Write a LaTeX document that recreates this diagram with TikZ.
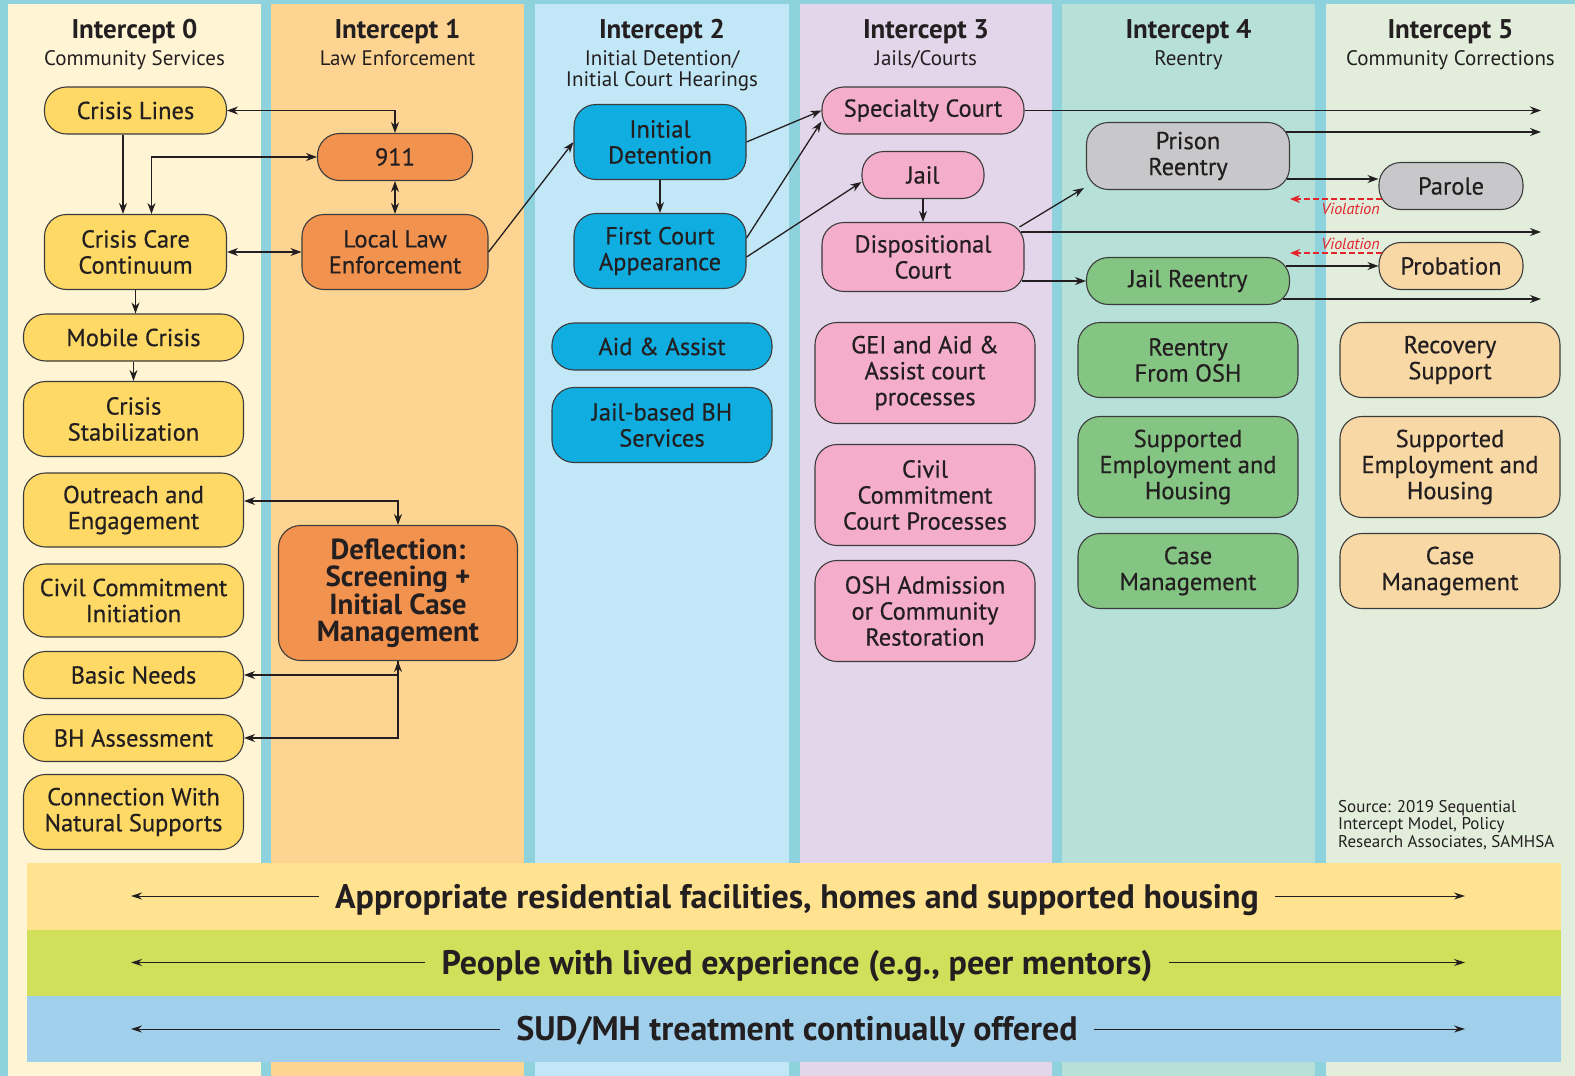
\documentclass[tikz,border=0pt]{standalone}
\usepackage{fontspec}
\setmainfont{PT Sans}
\newfontfamily\boxfont{PT Sans}[FakeBold=0.5]
\usetikzlibrary{arrows.meta, calc}

\definecolor{frame}{HTML}{8ED2DD}
\definecolor{colA}{HTML}{FFF5D5}
\definecolor{colB}{HTML}{FED492}
\definecolor{colC}{HTML}{C2E7F6}
\definecolor{colD}{HTML}{E3D6EA}
\definecolor{colE}{HTML}{B7E1D8}
\definecolor{colF}{HTML}{E2EEDB}
\definecolor{yel}{HTML}{FED966}
\definecolor{ora}{HTML}{F2924F}
\definecolor{blu}{HTML}{0FADE0}
\definecolor{pnk}{HTML}{F4ADCB}
\definecolor{gry}{HTML}{C8C8CA}
\definecolor{grn}{HTML}{85C584}
\definecolor{tanfill}{HTML}{F8D9A6}
\definecolor{bandA}{HTML}{FFE390}
\definecolor{bandB}{HTML}{D1E05B}
\definecolor{bandC}{HTML}{A1D0ED}
\definecolor{ink}{HTML}{231F20}
\definecolor{edge}{HTML}{3C3C3C}
\definecolor{viol}{HTML}{E3242B}

\begin{document}
\begin{tikzpicture}[x=1pt, y=-1pt,
        box/.style={draw=edge, line width=1.1pt, rounded corners=22pt, minimum width=220pt, minimum height=47pt, align=center, inner sep=0pt, text=ink, font=\boxfont\fontsize{24.5}{26}\selectfont},
        tall/.style={minimum height=75pt},
        taller/.style={minimum height=101pt},
        head/.style={font=\fontsize{27}{28}\selectfont\bfseries, text=ink, inner sep=0pt, anchor=base},
        sub/.style={font=\fontsize{21}{21}\selectfont, text=ink, align=center, inner sep=0pt, anchor=base},
        arrow/.style={->, >={Stealth[length=11pt,width=8pt]}, draw=ink, line width=1.3pt},
        violation/.style={->, >={Stealth[length=10pt,width=8pt]}, draw=viol, line width=1.1pt, dash pattern=on 6pt off 3pt},
        vlabel/.style={font=\fontsize{16}{17}\selectfont\itshape, text=viol, inner sep=0pt},
        band/.style={font=\fontsize{34}{36}\selectfont\bfseries, text=ink, inner ysep=0pt, inner xsep=16pt},
        bandarrow/.style={->, >={Stealth[length=11pt,width=7pt]}, draw=ink, line width=1pt}
    ]
        \useasboundingbox (0,0) rectangle (1575,1076);

        % Columns
        \fill[frame] (0,0) rectangle (1575,1076);
        \foreach \xa/\xb/\c in {8/261/colA, 271/524/colB, 535/789/colC, 800/1052/colD, 1062/1315/colE, 1326/1575/colF}
            \fill[\c] (\xa,4) rectangle (\xb,1076);

        % Headers
        \foreach \x/\n/\s/\y in {134.5/0/{Community Services}/65.5, 397.5/1/{Law Enforcement}/65.5, 662/2/{Initial Detention/\\Initial Court Hearings}/86.5, 926/3/{Jails/Courts}/65.5, 1188.5/4/{Reentry}/65.5, 1450.5/5/{Community Corrections}/65.5} {
            \node[head] (h\n) at (\x,38) {Intercept \n};
            \node[sub] (s\n) at (\x,\y) {\s};
        }

        % Intercept 0
        \node[box, fill=yel, minimum width=182pt] (lines) at (135.5,110.5) {Crisis Lines};
        \node[box, fill=yel, minimum width=182pt, tall] (care) at (135.5,252) {Crisis Care\\Continuum};
        \node[box, fill=yel] (mobile) at (133.5,337.5) {Mobile Crisis};
        \node[box, fill=yel, tall] (stab) at (133.5,419) {Crisis\\Stabilization};
        \node[box, fill=yel, minimum height=74pt] (outreach) at (133.5,510) {Outreach and\\Engagement};
        \node[box, fill=yel, minimum height=73pt] (civil) at (133.5,600.5) {Civil Commitment\\Initiation};
        \node[box, fill=yel] (basic) at (133.5,675) {Basic Needs};
        \node[box, fill=yel] (bh) at (133.5,738) {BH Assessment};
        \node[box, fill=yel, tall] (natural) at (133.5,812) {Connection With\\Natural Supports};

        % Intercept 1
        \node[box, fill=ora, minimum width=155pt] (n911) at (395,157) {911};
        \node[box, fill=ora, minimum width=186pt, tall] (local) at (395,252) {Local Law\\Enforcement};
        \node[box, fill=ora, minimum width=239pt, minimum height=135pt, font=\fontsize{29}{27.5}\selectfont\bfseries] (defl) at (398,593) {Deflection:\\Screening +\\Initial Case\\Management};

        % Intercept 2
        \node[box, fill=blu, minimum width=172pt, tall] (initdet) at (660,142) {Initial\\Detention};
        \node[box, fill=blu, minimum width=172pt, tall] (first) at (660,251) {First Court\\Appearance};
        \node[box, fill=blu] (aid) at (662,346.5) {Aid \& Assist};
        \node[box, fill=blu, tall] (jailbh) at (662,425) {Jail-based BH\\Services};

        % Intercept 3
        \node[box, fill=pnk, minimum width=202pt] (spec) at (923,110.5) {Specialty Court};
        \node[box, fill=pnk, minimum width=122pt] (jail) at (923,175) {Jail};
        \node[box, fill=pnk, minimum width=202pt, minimum height=69pt] (disp) at (923,257) {Dispositional\\Court};
        \node[box, fill=pnk, taller] (gei) at (925,373) {GEI and Aid \&\\Assist court\\processes};
        \node[box, fill=pnk, taller] (civilct) at (925,495) {Civil\\Commitment\\Court Processes};
        \node[box, fill=pnk, taller] (osh) at (925,611) {OSH Admission\\or Community\\Restoration};

        % Intercept 4
        \node[box, fill=gry, minimum width=203pt, minimum height=67pt] (prison) at (1188,156) {Prison\\Reentry};
        \node[box, fill=grn, minimum width=203pt] (jr) at (1188,281) {Jail Reentry};
        \node[box, fill=grn, tall] (oshre) at (1188,360) {Reentry\\From OSH};
        \node[box, fill=grn, taller] (emp4) at (1188,467) {Supported\\Employment and\\Housing};
        \node[box, fill=grn, tall] (case4) at (1188,571) {Case\\Management};

        % Intercept 5
        \node[box, fill=gry, minimum width=144pt] (parole) at (1451,186) {Parole};
        \node[box, fill=tanfill, minimum width=144pt] (prob) at (1451,266) {Probation};
        \node[box, fill=tanfill, tall] (recov) at (1450,360) {Recovery\\Support};
        \node[box, fill=tanfill, taller] (emp5) at (1450,467) {Supported\\Employment and\\Housing};
        \node[box, fill=tanfill, tall] (case5) at (1450,571) {Case\\Management};

        \node[anchor=north west, align=left, inner sep=0pt, font=\fontsize{17}{17.5}\selectfont, text=ink] (source) at (1338,800) {Source: 2019 Sequential\\Intercept Model, Policy\\Research Associates, SAMHSA};

        % Arrows
        \draw[arrow, <->] (lines.east) -| (n911.north);
        \draw[arrow] ([xshift=-12.5pt]lines.south) -- ([xshift=-12.5pt]care.north);
        \draw[arrow, <->] (n911.west) -| ([xshift=16pt]care.north);
        \draw[arrow, <->] (n911) -- (local);
        \draw[arrow, <->] (care) -- (local);
        \draw[arrow] (care.south) -- (care.south |- mobile.north);
        \draw[arrow] (mobile) -- (stab);
        \draw[arrow, <->] ([yshift=9pt]outreach.east) -| (defl.north);
        \draw[arrow, <->] (defl.south) |- (basic.east);
        \draw[arrow] (defl.south) |- (bh.east);

        \draw[arrow] (local.east) -- (initdet.west);
        \draw[arrow] (initdet) -- (first);
        \draw[arrow] (initdet.east) -- (spec.west);
        \draw[arrow] ([yshift=13pt]first.east) -- ([yshift=-11pt]spec.west);
        \draw[arrow] ([yshift=-6pt]first.east) -- ([yshift=-7pt]jail.west);
        \draw[arrow] (jail) -- (disp);

        \coordinate (endA) at (1541,110.5);
        \coordinate (endB) at (1541,132);
        \coordinate (endC) at (1541,232);
        \coordinate (endD) at (1541,299);
        \draw[arrow] (spec.east) -- (endA);
        \draw[arrow] ($(endB -| prison.east)+(-4,0)$) -- (endB);
        \draw[arrow] ($([yshift=-23pt]prison.east)+(-3,0)$) -- ([yshift=7pt]parole.west);
        \draw[arrow] ([xshift=-5pt,yshift=-5pt]disp.north east) -- ([xshift=-2pt,yshift=2pt]prison.south west);
        \draw[arrow] ($(endC -| disp.east)+(-4,0)$) -- (endC);
        \draw[arrow] ($(jr.west -| disp.east)+(-3,0)$) -- (jr.west);
        \draw[arrow] ($(prob.west -| jr.east)+(-4,0)$) -- (prob.west);
        \draw[arrow] ($(endD -| jr.east)+(-7,0)$) -- (endD);

        % Violations
        \coordinate (v1) at ($([yshift=-13pt]parole.west)+(4,0)$);
        \coordinate (v2) at ($([yshift=13pt]prob.west)+(4,0)$);
        \draw[violation] (v1) -- (v1 -| prison.east);
        \draw[violation] (v2) -- (v2 -| prison.east);
        \node[vlabel, anchor=north east] (vlab1) at (1380,203) {Violation};
        \node[vlabel, anchor=south east] (vlab2) at (1380,250) {Violation};

        % Bands
        \fill[bandA] (27,863) rectangle (1561,929.5);
        \fill[bandB] (27,929.5) rectangle (1561,996);
        \fill[bandC] (27,996) rectangle (1561,1062);
        \node[band] (house) at (797,900) {Appropriate residential facilities, homes and supported housing};
        \node[band] (peer) at (797,966) {People with lived experience (e.g., peer mentors)};
        \node[band] (treat) at (797,1032) {SUD/MH treatment continually offered};
        \foreach \b/\y in {house/896, peer/962.5, treat/1029} {
            \coordinate (\b L) at (131,\y);
            \coordinate (\b R) at (1465,\y);
            \draw[bandarrow] (\b.west |- \b L) -- (\b L);
            \draw[bandarrow] (\b.east |- \b R) -- (\b R);
        }
\end{tikzpicture}
\end{document}
